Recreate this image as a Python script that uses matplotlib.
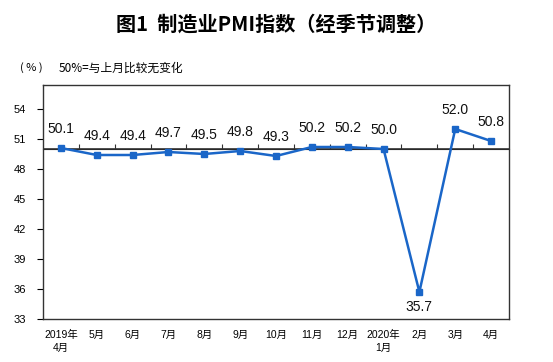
import matplotlib
matplotlib.use("Agg")
import matplotlib.pyplot as plt

plt.rcParams['font.family'] = ['Liberation Sans', 'Noto Sans CJK SC', 'DejaVu Sans']

months = ["2019年\n4月", "5月", "6月", "7月", "8月", "9月", "10月", "11月", "12月",
          "2020年\n1月", "2月", "3月", "4月"]
pmi = [50.1, 49.4, 49.4, 49.7, 49.5, 49.8, 49.3, 50.2, 50.2, 50.0, 35.7, 52.0, 50.8]
yticks = [33, 36, 39, 42, 45, 48, 51, 54]

W, H = 553, 362
fig = plt.figure(figsize=(W / 100, H / 100), dpi=100)
ax = fig.add_axes([43 / W, 1 - 319 / H, (509 - 43) / W, (319 - 85) / H])

color = "#1a66c8"
x = list(range(len(pmi)))
ax.plot(x, pmi, color=color, lw=1.8, marker="s", ms=3.8, zorder=3)

ymin, ymax = 33, 56.4
ax.set_ylim(ymin, ymax)
ax.set_xlim(-0.5, len(pmi) - 0.5)
ax.axhline(50, color="#333333", lw=1.2, zorder=2)

for xi, v in zip(x, pmi):
    if v < 40:
        ax.annotate(f"{v:.1f}", (xi, v), xytext=(0, -11), textcoords="offset points",
                    ha="center", va="center", fontsize=10, color="#111111")
    else:
        ax.annotate(f"{v:.1f}", (xi, v), xytext=(0, 13.5), textcoords="offset points",
                    ha="center", va="center", fontsize=10, color="#111111")

ax.set_yticks(yticks)
ax.set_yticklabels([str(t) for t in yticks], fontsize=8)
ax.tick_params(axis="y", direction="out", length=4, width=0.8, pad=8)
ax.set_xticks(x)
ax.set_xticklabels(months, fontsize=7.5, linespacing=1.3)
ax.tick_params(axis="x", length=0, pad=8)
for s in ax.spines.values():
    s.set_color("#333333")
    s.set_linewidth(1.0)

sec = ax.secondary_xaxis((50 - ymin) / (ymax - ymin))
sec.set_xticks([i - 0.5 for i in range(1, len(pmi))])
sec.set_xticklabels([])
sec.tick_params(direction="out", length=3.5, width=0.8, color="#333333")
sec.spines['bottom'].set_visible(False)

cjk = ['Noto Sans CJK SC', 'DejaVu Sans']
fig.text(0.5, 1 - 24 / H, "图1  制造业PMI指数（经季节调整）", ha="center", va="center",
         fontsize=14.5, fontweight="bold", family=cjk)
fig.text(20 / W, 1 - 68 / H, "( % )", ha="left", va="center", fontsize=8, family=cjk)
fig.text(59 / W, 1 - 68 / H, "50%=与上月比较无变化", ha="left", va="center", fontsize=8.5,
         family=cjk)

fig.savefig("out.png", dpi=100)
